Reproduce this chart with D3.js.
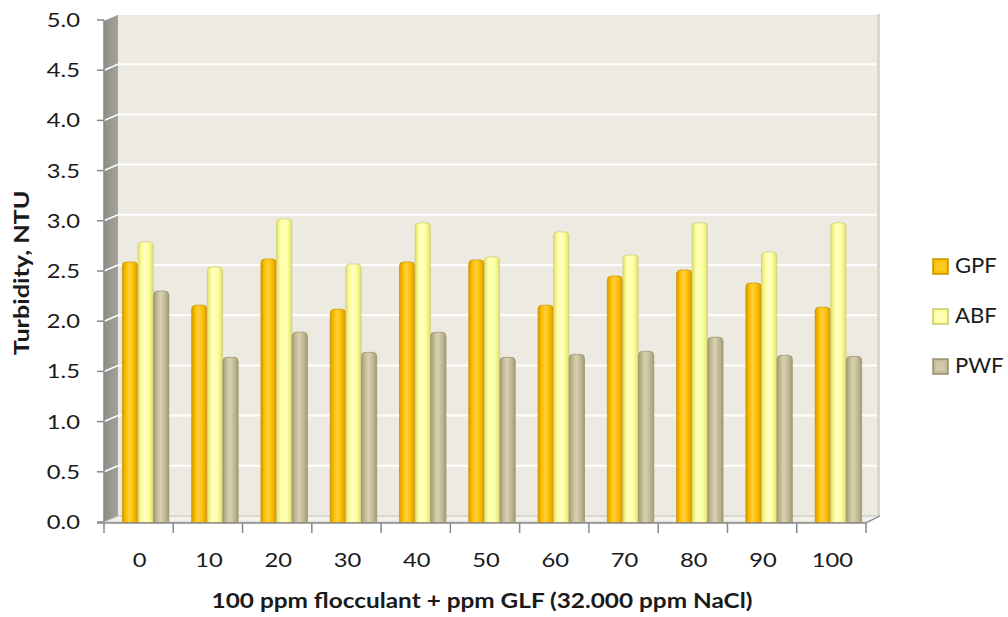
<!DOCTYPE html>
<html><head><meta charset="utf-8">
<script src="https://cdn.jsdelivr.net/npm/d3@7"></script>
<style>
html,body{margin:0;padding:0;background:#fff;}
text{font-family:Lato,"Noto Sans",sans-serif;fill:#1a1a1a;}
</style></head>
<body><svg id="c" width="1008" height="617"></svg>
<script>
const categories = ["0","10","20","30","40","50","60","70","80","90","100"];
const seriesNames = ["GPF","ABF","PWF"];
const gpf = [2.56,2.13,2.59,2.09,2.56,2.58,2.13,2.42,2.48,2.35,2.11];
const abf = [2.76,2.51,2.99,2.54,2.95,2.61,2.86,2.63,2.95,2.66,2.95];
const pwf = [2.27,1.61,1.86,1.66,1.86,1.61,1.64,1.67,1.81,1.63,1.62];
const yTicks = [0,0.5,1,1.5,2,2.5,3,3.5,4,4.5,5];
const yTitle = "Turbidity, NTU";
const xTitle = "100 ppm flocculant + ppm GLF (32.000 ppm NaCl)";

const colors = {
  GPF:{base:"#ffc000", dark:"#d99a00", light:"#ffd040", stroke:"#c89000"},
  ABF:{base:"#ffff99", dark:"#e0e07a", light:"#ffffc8", stroke:"#c8c870"},
  PWF:{base:"#c4bd97", dark:"#a49d78", light:"#d8d2b2", stroke:"#968f6c"}
};
const seriesData = {GPF:gpf, ABF:abf, PWF:pwf};

const svg = d3.select("#c");
const defs = svg.append("defs");
const TS = 1.25; // horizontal stretch of text

// geometry
const x0 = 104, x1 = 866, depthX = 14, depthY = 6;
const yFront = d3.scaleLinear().domain([0,5]).range([522,20]);
const yBack = d3.scaleLinear().domain([0,5]).range([522-depthY,20-depthY]);
const yBar = d3.scaleLinear().domain([0,5]).range([519,17]);
const xBand = d3.scaleBand().domain(categories).range([x0,x1]);
const inner = d3.scaleBand().domain(seriesNames).range([0,46.5]).paddingInner(0.02);

// gradients
seriesNames.forEach(s=>{
  const c = colors[s];
  const g = defs.append("linearGradient").attr("id","g"+s).attr("x1","0").attr("x2","1").attr("y1","0").attr("y2","0");
  g.append("stop").attr("offset","0%").attr("stop-color",c.dark);
  g.append("stop").attr("offset","25%").attr("stop-color",c.base);
  g.append("stop").attr("offset","45%").attr("stop-color",c.light);
  g.append("stop").attr("offset","70%").attr("stop-color",c.base);
  g.append("stop").attr("offset","100%").attr("stop-color",c.dark);
});
const gw = defs.append("linearGradient").attr("id","side").attr("x1","0").attr("x2","1");
gw.append("stop").attr("offset","0%").attr("stop-color","#8e8e87");
gw.append("stop").attr("offset","100%").attr("stop-color","#a3a39b");

// back wall
svg.append("rect").attr("x",x0+depthX).attr("y",yBack(5)).attr("width",(x1+depthX)-(x0+depthX)).attr("height",yBack(0)-yBack(5)).attr("fill","#edebe1");
svg.append("rect").attr("x",x1+depthX-3).attr("y",yBack(5)).attr("width",3).attr("height",yBack(0)-yBack(5)).attr("fill","#dcd8c6");
// side wall
svg.append("path").attr("d",`M${x0},${yFront(5)}L${x0+depthX},${yBack(5)}L${x0+depthX},${yBack(0)}L${x0},${yFront(0)}Z`).attr("fill","url(#side)");
// floor
svg.append("path").attr("d",`M${x0},${yFront(0)}L${x0+depthX},${yBack(0)}L${x1+depthX},${yBack(0)}L${x1},${yFront(0)}Z`).attr("fill","#f2f1ec").attr("stroke","#b8b8b0").attr("stroke-width",0.8);

// grid lines
const grid = svg.append("g");
yTicks.filter(v=>v>0).forEach(v=>{
  grid.append("line").attr("x1",x0+depthX).attr("x2",x1+depthX-3).attr("y1",yBack(v)).attr("y2",yBack(v)).attr("stroke","#fff").attr("stroke-width",2);
  grid.append("line").attr("x1",x0).attr("x2",x0+depthX).attr("y1",yFront(v)).attr("y2",yBack(v)).attr("stroke","#fff").attr("stroke-width",1.6);
});

// bars
const bars = svg.append("g");
const barShift = 7;
categories.forEach((cat,i)=>{
  seriesNames.forEach(s=>{
    const v = seriesData[s][i];
    const x = xBand(cat) + xBand.bandwidth()/2 + barShift - 46.5/2 + inner(s);
    const w = inner.bandwidth();
    const yt = yBar(v), yb = yFront(0) + 0.5, r = 4;
    bars.append("path")
      .attr("d",`M${x},${yb}L${x},${yt+r}Q${x},${yt} ${x+r},${yt}L${x+w-r},${yt}Q${x+w},${yt} ${x+w},${yt+r}L${x+w},${yb}Z`)
      .attr("fill",`url(#g${s})`).attr("stroke",colors[s].stroke).attr("stroke-width",0.7);
  });
});

// axes
const axisColor = "#888";
const ya = svg.append("g");
ya.append("line").attr("x1",x0).attr("x2",x0).attr("y1",yFront(5)).attr("y2",yFront(0)).attr("stroke",axisColor).attr("stroke-width",1.5);
yTicks.forEach(v=>{
  ya.append("line").attr("x1",x0-7).attr("x2",x0).attr("y1",yFront(v)).attr("y2",yFront(v)).attr("stroke",axisColor).attr("stroke-width",1.5);
  ya.append("g").attr("transform",`translate(80,${yFront(v)+7}) scale(${TS},1)`)
    .append("text").attr("text-anchor","end").attr("font-size",19).text(v.toFixed(1));
});
const xa = svg.append("g");
xa.append("line").attr("x1",x0-7).attr("x2",x1).attr("y1",yFront(0)+1).attr("y2",yFront(0)+1).attr("stroke",axisColor).attr("stroke-width",1.5);
xa.append("line").attr("x1",x1).attr("x2",x1+depthX).attr("y1",yFront(0)+1).attr("y2",yBack(0)).attr("stroke",axisColor).attr("stroke-width",1.2);
categories.forEach(cat=>{
  xa.append("line").attr("x1",xBand(cat)).attr("x2",xBand(cat)).attr("y1",yFront(0)+1).attr("y2",yFront(0)+11).attr("stroke",axisColor).attr("stroke-width",1.5);
  xa.append("g").attr("transform",`translate(${xBand(cat)+xBand.bandwidth()/2+1},567) scale(${TS},1)`)
    .append("text").attr("text-anchor","middle").attr("font-size",19).text(cat);
});
xa.append("line").attr("x1",x1).attr("x2",x1).attr("y1",yFront(0)+1).attr("y2",yFront(0)+11).attr("stroke",axisColor).attr("stroke-width",1.5);

// titles
svg.append("g").attr("transform",`translate(482,608) scale(1.2,1)`)
  .append("text").attr("text-anchor","middle").attr("font-size",20.3).attr("font-weight","bold").text(xTitle);
svg.append("g").attr("transform",`translate(29,273) rotate(-90) scale(1.2,1)`)
  .append("text").attr("text-anchor","middle").attr("font-size",21).attr("font-weight","bold").text(yTitle);

// legend
const leg = svg.append("g");
seriesNames.forEach((s,i)=>{
  const y = 259 + i*50;
  leg.append("rect").attr("x",933).attr("y",y).attr("width",15).attr("height",15).attr("fill",colors[s].base).attr("stroke",colors[s].stroke).attr("stroke-width",1.5);
  leg.append("rect").attr("x",936).attr("y",y+3).attr("width",9).attr("height",9).attr("fill",colors[s].light).attr("opacity",0.6);
  leg.append("g").attr("transform",`translate(955,${y+14}) scale(1.05,1)`)
    .append("text").attr("font-size",21).text(s);
});
</script></body></html>
